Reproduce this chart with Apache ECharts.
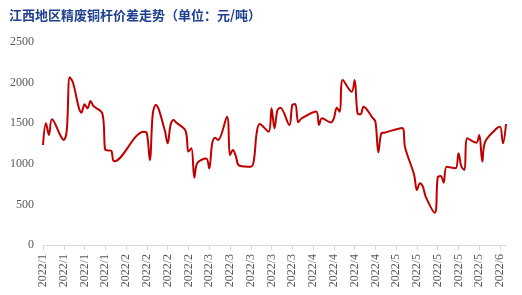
<!DOCTYPE html>
<html><head><meta charset="utf-8">
<script src="https://cdn.jsdelivr.net/npm/echarts@6/dist/echarts.min.js"></script>
<style>html,body{margin:0;padding:0;background:#fff}#c{width:522px;height:295px}</style>
</head><body><div id="c"></div>
<script>
var titleText = "江西地区精废铜杆价差走势（单位：元/吨）";
var firstDay = "2022/1/4";
var lastDay = "2022/6/9";
var tradeDates = ["2022/1/4","2022/1/5","2022/1/6","2022/1/7","2022/1/10","2022/1/11","2022/1/12","2022/1/13","2022/1/14","2022/1/17","2022/1/18","2022/1/19","2022/1/20","2022/1/21","2022/1/24","2022/1/25","2022/1/26","2022/1/27","2022/1/28",
"2022/2/7","2022/2/8","2022/2/9","2022/2/10","2022/2/11","2022/2/14","2022/2/15","2022/2/16","2022/2/17","2022/2/18","2022/2/21","2022/2/22","2022/2/23","2022/2/24","2022/2/25","2022/2/28",
"2022/3/1","2022/3/2","2022/3/3","2022/3/4","2022/3/7","2022/3/8","2022/3/9","2022/3/10","2022/3/11","2022/3/14","2022/3/15","2022/3/16","2022/3/17","2022/3/18","2022/3/21","2022/3/22","2022/3/23","2022/3/24","2022/3/25","2022/3/28","2022/3/29","2022/3/30","2022/3/31",
"2022/4/1","2022/4/6","2022/4/7","2022/4/8","2022/4/11","2022/4/12","2022/4/13","2022/4/14","2022/4/15","2022/4/18","2022/4/19","2022/4/20","2022/4/21","2022/4/22","2022/4/25","2022/4/26","2022/4/27","2022/4/28","2022/4/29",
"2022/5/5","2022/5/6","2022/5/9","2022/5/10","2022/5/11","2022/5/12","2022/5/13","2022/5/16","2022/5/17","2022/5/18","2022/5/19","2022/5/20","2022/5/23","2022/5/24","2022/5/25","2022/5/26","2022/5/27","2022/5/30","2022/5/31",
"2022/6/1","2022/6/2","2022/6/6","2022/6/7","2022/6/8","2022/6/9"];
var spreadJan = [1231,1498,1355,1548,1340,1293,1410,2065,2011,1630,1733,1683,1773,1712,1620,1170,1165,1160,1030];
var spreadFeb = [1395,1375,1047,1620,1725,1416,1252,1480,1539,1505,1410,1150,1190,829,1010,1065];
var spreadMar = [945,1250,1320,1293,1580,1108,1170,1090,980,964,964,1030,1380,1490,1395,1683,1437,1662,1690,1478,1724,1736,1511];
var spreadApr = [1555,1645,1478,1560,1510,1560,1690,1641,2032,1888,2032,1620,1610,1703,1570,1519,1140,1375,1383];
var spreadMay = [1440,1200,870,677,760,718,590,398,834,850,767,964,945,1129,964,924,1314,1260,1355];
var spreadJun = [1026,1272,1440,1457,1252,1490];
var yTicks = [0,500,1000,1500,2000,2500];

var spread = [].concat(spreadJan, spreadFeb, spreadMar, spreadApr, spreadMay, spreadJun);
function key(d){return d.getFullYear()+"/"+(d.getMonth()+1)+"/"+d.getDate();}
var byDate = {};
tradeDates.forEach(function(d,i){byDate[d]=spread[i];});
var cats = [], vals = [];
var p = firstDay.split("/"), d = new Date(+p[0], +p[1]-1, +p[2]);
var q = lastDay.split("/"), end = new Date(+q[0], +q[1]-1, +q[2]);
while (d <= end) { var k = key(d); cats.push(k); vals.push(byDate.hasOwnProperty(k) ? byDate[k] : null); d.setDate(d.getDate()+1); }

var chart = echarts.init(document.getElementById('c'), null, {renderer:'canvas'});
chart.setOption({
  animation:false,
  title:{text:titleText,left:4,top:4,textStyle:{fontFamily:'Noto Sans CJK SC',fontSize:13,fontWeight:'bold',color:'#1f3f8f'}},
  grid:{left:43,right:16,top:42,bottom:50,containLabel:false},
  xAxis:{type:'category',data:cats,boundaryGap:false,
    axisLine:{lineStyle:{color:'#d9d9d9',width:1}},
    axisTick:{interval:6,length:5,lineStyle:{color:'#d9d9d9'}},
    axisLabel:{interval:6,rotate:90,margin:9,color:'#595959',fontFamily:'Liberation Sans Narrow',fontSize:12,
      formatter:function(v){var s=v.split('/');return s[0]+'/'+s[1];}}},
  yAxis:{type:'value',min:yTicks[0],max:yTicks[yTicks.length-1],interval:500,
    axisLine:{show:false},axisTick:{show:false},splitLine:{show:false},
    axisLabel:{margin:9,color:'#595959',fontFamily:'Liberation Serif',fontSize:12,
      formatter:function(v){return String(v);}}},
  series:[{type:'line',data:vals,connectNulls:true,smooth:0.35,symbol:'none',
    lineStyle:{color:'#c00000',width:2}}]
});
</script></body></html>
